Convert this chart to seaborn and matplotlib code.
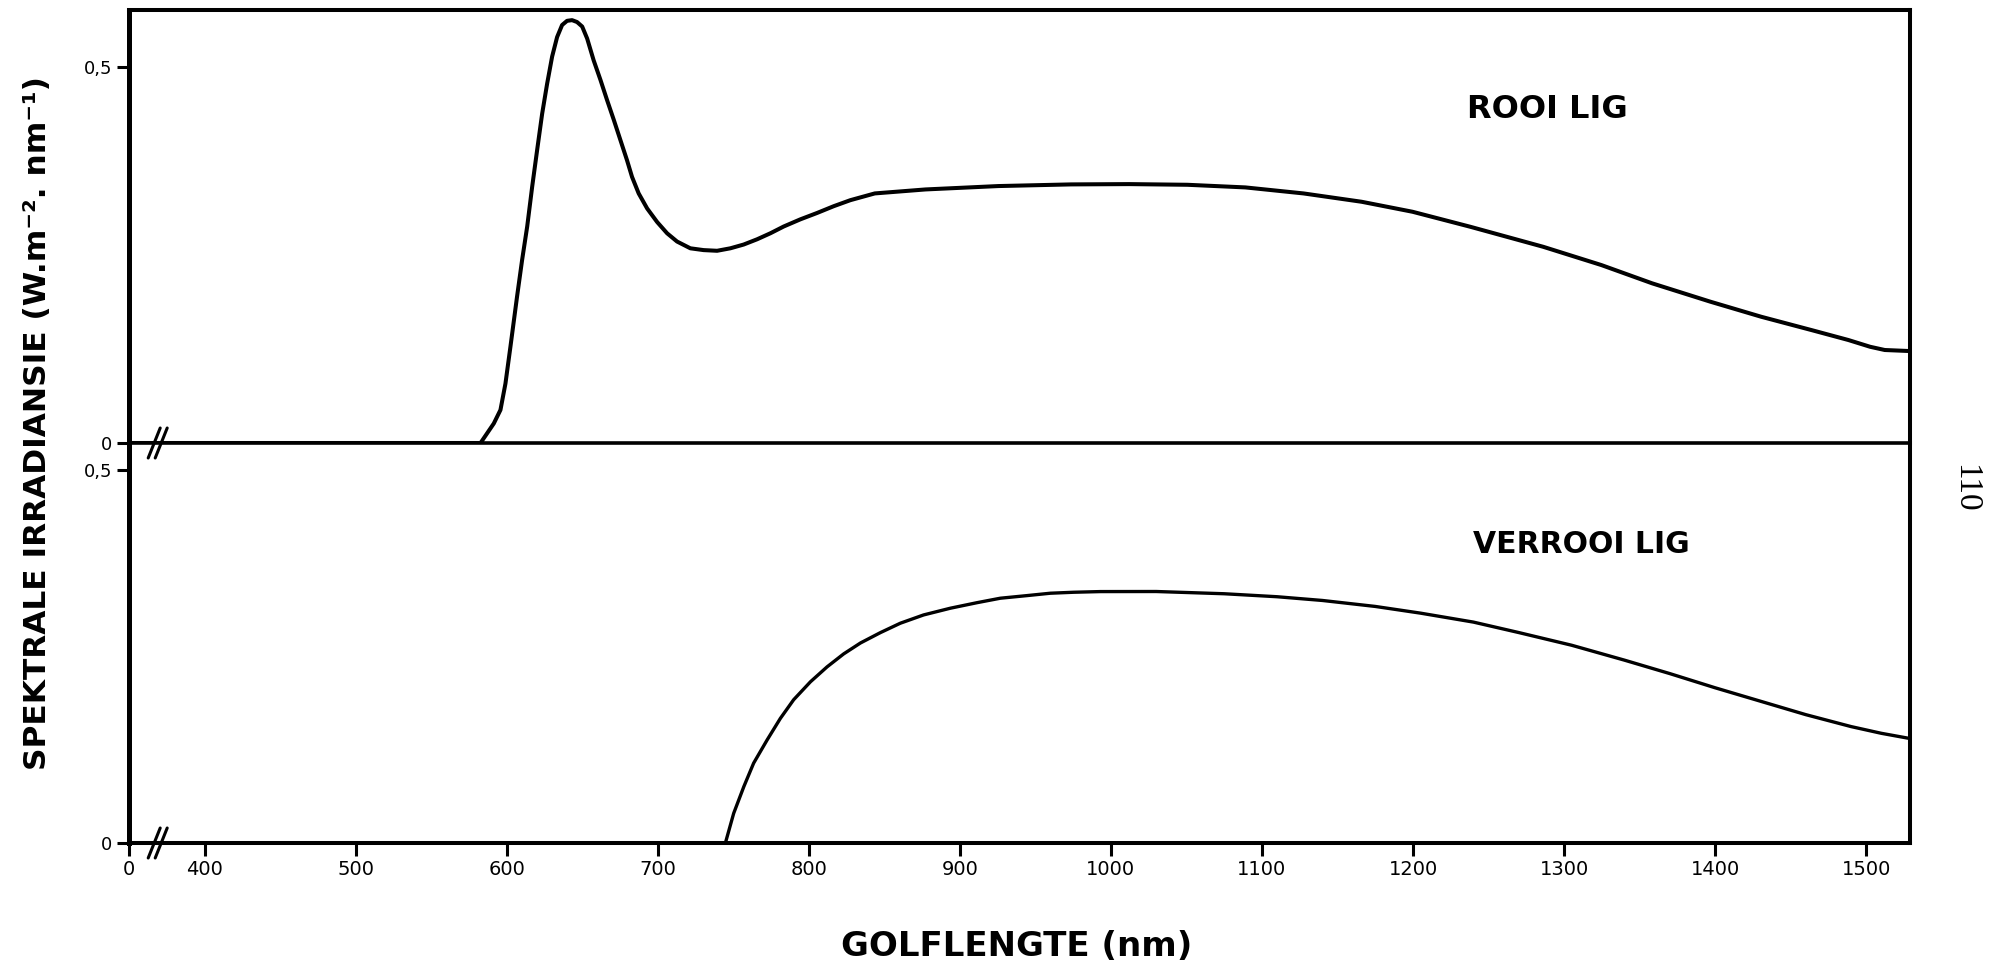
import matplotlib
matplotlib.use("Agg")
import matplotlib.pyplot as plt
from matplotlib.lines import Line2D
from matplotlib.transforms import IdentityTransform
import pandas as pd
import seaborn as sns

# Spectral irradiance under red light (ROOI LIG), W m-2 nm-1
wl_red = [350, 582.7, 587.1, 591.5, 595.9, 599.2, 602.5, 606.9, 610.2, 613.6,
          616.9, 620.2, 623.5, 626.8, 630.1, 633.4, 636.7, 640.0, 643.3, 646.6,
          650.0, 653.3, 657.6, 662.1, 666.5, 670.9, 675.3, 679.7, 683.0, 687.4,
          693.0, 699.6, 706.2, 712.8, 721.6, 730.4, 739.3, 748.1, 756.9, 765.8,
          774.6, 783.4, 794.4, 805.5, 816.5, 827.5, 843.7, 877.3, 925.5, 973.6,
          1012.0, 1050.6, 1089.0, 1127.5, 1166.0, 1199.7, 1238.0, 1286.2, 1324.7,
          1358.3, 1396.8, 1430.4, 1464.2, 1488.2, 1502.6, 1512.3, 1529.0]
irr_red = [0.0, 0.0, 0.013, 0.026, 0.044, 0.079, 0.128, 0.195, 0.243, 0.288,
           0.341, 0.390, 0.438, 0.478, 0.514, 0.540, 0.556, 0.5616, 0.5625, 0.560,
           0.554, 0.538, 0.509, 0.483, 0.456, 0.430, 0.403, 0.376, 0.354, 0.332,
           0.312, 0.294, 0.279, 0.268, 0.259, 0.2566, 0.2557, 0.259, 0.264, 0.271,
           0.279, 0.288, 0.2975, 0.306, 0.315, 0.323, 0.332, 0.3373, 0.3418, 0.344,
           0.3444, 0.3435, 0.340, 0.332, 0.3209, 0.3076, 0.2876, 0.261, 0.2367,
           0.2124, 0.188, 0.168, 0.150, 0.137, 0.128, 0.1237, 0.1223]

# Spectral irradiance under far-red light (VERROOI LIG)
wl_farred = [350, 744.8, 750.3, 757.0, 763.5, 772.4, 781.2, 790.0, 801.1, 812.1,
             823.1, 834.2, 847.4, 860.6, 876.0, 893.7, 911.3, 926.8, 944.4, 959.9,
             975.3, 993.0, 1030, 1075, 1110, 1140, 1175, 1205, 1240, 1270, 1305,
             1340, 1370, 1400, 1430, 1460, 1490, 1510, 1529]
irr_farred = [0.0, 0.0, 0.0398, 0.0755, 0.107, 0.138, 0.167, 0.192, 0.216, 0.236,
              0.2534, 0.268, 0.2819, 0.2945, 0.3056, 0.3146, 0.322, 0.328, 0.3315,
              0.3347, 0.336, 0.3369, 0.337, 0.334, 0.330, 0.325, 0.317, 0.308,
              0.296, 0.282, 0.265, 0.245, 0.227, 0.208, 0.190, 0.172, 0.156, 0.147,
              0.140]

x_ticks = [350, 400, 500, 600, 700, 800, 900, 1000, 1100, 1200, 1300, 1400, 1500]
x_tick_labels = ["0", "400", "500", "600", "700", "800", "900", "1000", "1100",
                 "1200", "1300", "1400", "1500"]
y_ticks = [0, 0.5]
y_tick_labels = ["0", "0,5"]

panel_titles = ["ROOI LIG", "VERROOI LIG"]
x_label = "GOLFLENGTE (nm)"
y_label = "SPEKTRALE IRRADIANSIE (W.m\u207b\u00b2. nm\u207b\u00b9)"

sns.set_style("white")
plt.rcParams["font.family"] = ["DejaVu Sans"]
for key in ("text.color", "axes.labelcolor", "xtick.color", "ytick.color",
            "axes.edgecolor"):
    plt.rcParams[key] = "black"

W, H = 1994, 964
fig = plt.figure(figsize=(W / 100, H / 100), dpi=100)

left, right = 129 / W, 1910 / W
ax_top = fig.add_axes([left, 1 - 443 / H, right - left, (443 - 10) / H])
ax_bot = fig.add_axes([left, 1 - 843 / H, right - left, (843 - 443) / H])

df_red = pd.DataFrame({"wl": wl_red, "irr": irr_red})
df_far = pd.DataFrame({"wl": wl_farred, "irr": irr_farred})

sns.lineplot(data=df_red, x="wl", y="irr", ax=ax_top, color="black",
             linewidth=2.9, estimator=None)
sns.lineplot(data=df_far, x="wl", y="irr", ax=ax_bot, color="black",
             linewidth=2.4, estimator=None)

ax_top.set_ylim(0, 0.576)
ax_bot.set_ylim(0, 0.536)

for ax in (ax_top, ax_bot):
    ax.set_xlim(350, 1529)
    ax.set_yticks(y_ticks)
    ax.set_yticklabels(y_tick_labels)
    ax.set_xlabel("")
    ax.set_ylabel("")
    ax.patch.set_alpha(0)
    for side in ("left", "right", "top", "bottom"):
        ax.spines[side].set_color("black")
        ax.spines[side].set_linewidth(2.9)
    ax.spines["left"].set_linewidth(3.6)
    ax.tick_params(axis="y", direction="out", length=9, width=2.2,
                   labelsize=13, pad=3, left=True, colors="black")

ax_top.spines["bottom"].set_linewidth(2.6)
ax_bot.spines["top"].set_visible(False)
ax_top.set_xticks([])
ax_bot.set_xticks(x_ticks)
ax_bot.set_xticklabels(x_tick_labels)
ax_bot.tick_params(axis="x", direction="out", length=9, width=2.2,
                   labelsize=14, pad=3, bottom=True, colors="black")

ax_top.text(1236, 0.443, panel_titles[0], fontsize=23, fontweight="bold",
            va="center", ha="left")
ax_bot.text(1240, 0.40, panel_titles[1], fontsize=21.5, fontweight="bold",
            va="center", ha="left")

# axis-break marks on the zero lines
for ax in (ax_top, ax_bot):
    px, py = ax.transData.transform((369, 0))
    for dx in (-3.5, 3.5):
        fig.add_artist(Line2D([px + dx - 6, px + dx + 6], [py - 15, py + 15],
                              color="black", linewidth=2.2,
                              transform=IdentityTransform(), clip_on=False))

fig.text(1017 / W, 1 - 947 / H, x_label, fontsize=24.5, fontweight="bold",
         ha="center", va="center")
fig.text(38 / W, 1 - 423 / H, y_label, fontsize=22.5, fontweight="bold",
         rotation=90, ha="center", va="center")
fig.text(1965 / W, 1 - 488 / H, "110", fontsize=24, rotation=-90,
         family=["Liberation Serif", "DejaVu Serif"], ha="center", va="center")

fig.savefig("out.png", dpi=100, facecolor="white")
